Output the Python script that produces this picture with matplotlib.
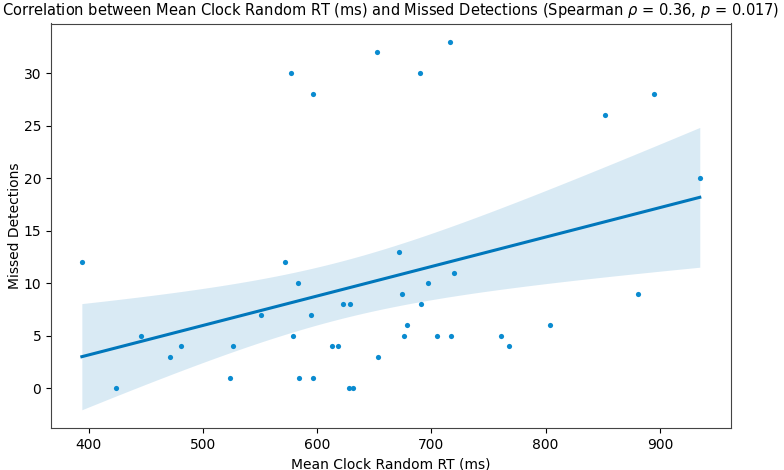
import numpy as np
import matplotlib
matplotlib.use('Agg')
import matplotlib.pyplot as plt

# mean clock random RT (ms) per participant and missed detections
rt = [394, 424, 446, 471, 481, 524, 526, 551, 572, 577, 579, 583, 584, 595,
      596, 596, 613, 618, 623, 628, 629, 631, 652, 653, 672, 674, 676, 679,
      690, 691, 697, 705, 716, 717, 720, 761, 768, 804, 852, 881, 895, 935]
missed = [12, 0, 5, 3, 4, 1, 4, 7, 12, 30, 5, 10, 1, 7,
          1, 28, 4, 4, 8, 0, 8, 0, 32, 3, 13, 9, 5, 6,
          30, 8, 10, 5, 33, 5, 11, 5, 4, 6, 26, 9, 28, 20]

x = np.array(rt, dtype=float)
y = np.array(missed, dtype=float)
n = len(x)

# ols fit, band from robust (HC1) standard errors
X = np.column_stack([np.ones(n), x])
beta = np.linalg.lstsq(X, y, rcond=None)[0]
e = y - X @ beta
XtXi = np.linalg.inv(X.T @ X)
cov = XtXi @ (X.T * e**2) @ X @ XtXi * n / (n - 2)
xg = np.linspace(x.min(), x.max(), 100)
G = np.column_stack([np.ones(len(xg)), xg])
yg = G @ beta
se = np.sqrt(np.einsum('ij,jk,ik->i', G, cov, G))
lo = yg - 1.96 * se
hi = yg + 1.96 * se

fig = plt.figure(figsize=(7.84, 4.70), dpi=100)
ax = fig.add_axes([0.065, 0.089, 0.867, 0.861])

ax.scatter(x, y, s=14, color='#0a8bd0', zorder=3, linewidths=0)
ax.fill_between(xg, lo, hi, color='#0077BB', alpha=0.15, linewidth=0)
ax.plot(xg, yg, color='#0077BB', lw=2.2)

ax.set_xlabel('Mean Clock Random RT (ms)')
ax.set_ylabel('Missed Detections', labelpad=1)
ax.set_title(r'Correlation between Mean Clock Random RT (ms) and Missed Detections (Spearman $\rho$ = 0.36, $p$ = 0.017)',
             fontsize=10.5)
for sp in ax.spines.values():
    sp.set_color('#444444')

fig.savefig('out.png', dpi=100)
